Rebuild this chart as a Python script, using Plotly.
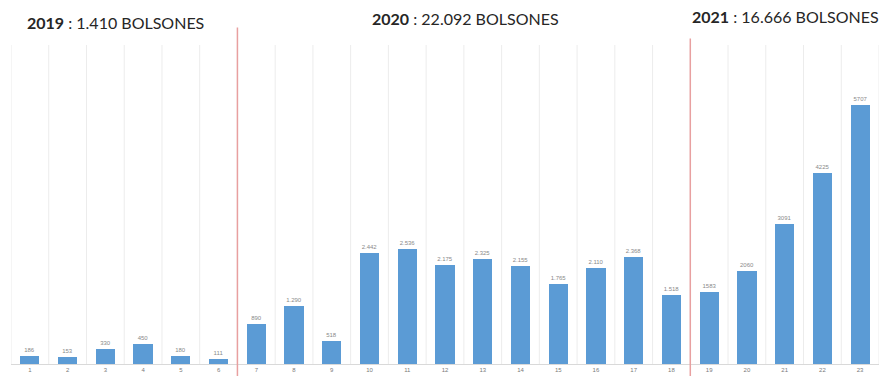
import plotly.graph_objects as go

# Monthly bolsones delivered, numbered periods 1..23
periods = list(range(1, 24))
values_2019 = [186, 153, 330, 450, 180, 111]
values_2020 = [890, 1290, 518, 2442, 2536, 2175, 2325, 2155, 1765, 2110, 2368, 1518]
values_2021 = [1583, 2060, 3091, 4225, 5707]
years = ["2019", "2020", "2021"]

values = values_2019 + values_2020 + values_2021


def dot_thousands(v):
    return f"{v:,}".replace(",", ".")


# 2019/2020 labels use a dot separator, 2021 labels are plain
labels = [dot_thousands(v) for v in values_2019 + values_2020] + [str(v) for v in values_2021]

BLUE = "#5b9bd5"
GRID = "#ececec"
RED = "#e8a0a0"

fig = go.Figure(
    go.Bar(
        x=periods,
        y=values,
        width=0.51,
        marker=dict(color=BLUE, line=dict(width=0)),
        text=labels,
        textposition="outside",
        textfont=dict(size=6, color="#8a8a8a", family="Liberation Sans"),
        cliponaxis=False,
        hoverinfo="x+y",
    )
)

shapes = []
# light vertical separators between periods
for i in range(24):
    shapes.append(dict(type="line", xref="x", yref="paper", x0=i + 0.5, x1=i + 0.5,
                       y0=0, y1=1, line=dict(color=GRID, width=1), layer="below"))
# red dividers between years
shapes.append(dict(type="line", xref="x", yref="paper", x0=6.5, x1=6.5,
                   y0=-0.04, y1=1.055, line=dict(color=RED, width=1.5)))
shapes.append(dict(type="line", xref="x", yref="paper", x0=18.5, x1=18.5,
                   y0=-0.04, y1=1.02, line=dict(color=RED, width=1.5)))

totals = [sum(values_2019), sum(values_2020), sum(values_2021)]
title_font = dict(family="Lato", size=16, color="#262626")
annotations = [
    dict(x=0.86, y=1.072, xref="x", yref="paper", xanchor="left", yanchor="middle",
         text=f"<b>{years[0]}</b> : {dot_thousands(totals[0])} BOLSONES", showarrow=False, font=title_font),
    dict(x=12.54, y=1.082, xref="x", yref="paper", xanchor="center", yanchor="middle",
         text=f"<b>{years[1]}</b> : {dot_thousands(totals[1])} BOLSONES", showarrow=False, font=title_font),
    dict(x=18.48, y=1.088, xref="x", yref="paper", xanchor="left", yanchor="middle",
         text=f"<b>{years[2]}</b> : {dot_thousands(totals[2])} BOLSONES", showarrow=False, font=title_font),
]

fig.update_layout(
    width=882,
    height=376,
    margin=dict(l=11, r=3, t=45, b=12),
    paper_bgcolor="white",
    plot_bgcolor="white",
    showlegend=False,
    shapes=shapes,
    annotations=annotations,
    bargap=0,
    xaxis=dict(
        range=[0.5, 23.5],
        tickmode="array",
        tickvals=periods,
        ticktext=[str(p) for p in periods],
        tickfont=dict(size=6, color="#7a7a7a", family="Liberation Sans"),
        showgrid=False,
        zeroline=False,
        showline=True,
        linecolor="#d9d9d9",
        linewidth=1,
        ticks="",
        ticklen=0,
    ),
    yaxis=dict(
        range=[0, 7040],
        visible=False,
        showgrid=False,
        zeroline=False,
    ),
)

fig.write_html("out.html")
